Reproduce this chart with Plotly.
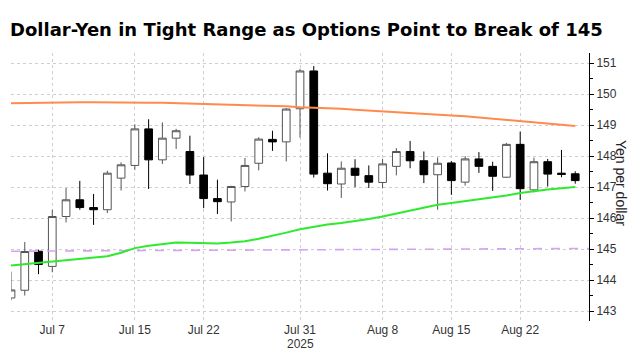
import pandas as pd
import plotly.graph_objects as go

# ---- data ----
dates = list(pd.bdate_range("2025-07-02", "2025-08-28").strftime("%Y-%m-%d"))

opens = [143.42, 143.67, 144.93, 144.44, 146.05, 146.59, 146.34, 146.27, 147.29, 147.70,
         148.88, 147.88, 148.58, 148.15, 147.39, 146.63, 146.52, 147.02, 147.77, 148.54,
         148.46, 149.53, 150.75, 147.45, 147.10, 147.61, 147.37, 147.15, 147.67, 148.15,
         147.85, 147.40, 147.78, 147.16, 147.91, 147.67, 147.32, 148.38, 146.91, 147.82,
         147.45, 147.43]
highs = [144.27, 145.23, 144.98, 146.27, 146.97, 147.20, 146.78, 147.53, 147.80, 149.03,
         149.19, 149.09, 148.88, 148.66, 147.97, 147.24, 147.04, 147.94, 148.61, 148.82,
         149.55, 150.82, 150.91, 148.09, 147.83, 147.90, 147.70, 147.91, 148.26, 148.49,
         148.15, 147.96, 147.84, 148.00, 148.13, 147.82, 148.43, 148.79, 147.95, 147.91,
         148.20, 147.51]
lows = [143.35, 143.50, 144.19, 144.25, 145.86, 146.27, 145.78, 146.16, 146.89, 147.56,
        146.94, 147.75, 148.23, 147.10, 146.32, 146.13, 145.89, 146.86, 147.54, 148.17,
        147.83, 148.60, 147.31, 146.89, 146.65, 147.00, 146.97, 146.96, 147.38, 147.61,
        147.13, 146.27, 146.75, 147.05, 147.46, 146.88, 147.30, 146.59, 146.83, 147.02,
        147.32, 147.11]
closes = [143.68, 144.92, 144.50, 146.05, 146.59, 146.34, 146.27, 147.45, 147.72, 148.88,
          147.88, 148.58, 148.82, 147.39, 146.63, 146.53, 147.02, 147.70, 148.55, 148.46,
          149.52, 150.75, 147.42, 147.11, 147.61, 147.38, 147.16, 147.75, 148.15, 147.85,
          147.40, 147.77, 147.21, 147.91, 147.67, 147.35, 148.38, 146.95, 147.82, 147.42,
          147.41, 147.21]

ma_orange = [149.71, 149.72, 149.72, 149.73, 149.74, 149.74, 149.74, 149.73, 149.73, 149.72,
             149.72, 149.72, 149.71, 149.70, 149.69, 149.68, 149.67, 149.66, 149.65, 149.63,
             149.61, 149.58, 149.57, 149.55, 149.53, 149.50, 149.47, 149.44, 149.41, 149.38,
             149.36, 149.33, 149.31, 149.29, 149.25, 149.22, 149.18, 149.14, 149.10, 149.06,
             149.01, 148.97]
ma_green = [144.47, 144.51, 144.55, 144.60, 144.64, 144.68, 144.71, 144.77, 144.88, 145.03,
            145.11, 145.16, 145.21, 145.20, 145.19, 145.18, 145.21, 145.25, 145.33, 145.42,
            145.53, 145.64, 145.72, 145.79, 145.84, 145.90, 145.97, 146.05, 146.15, 146.25,
            146.34, 146.43, 146.49, 146.55, 146.60, 146.66, 146.73, 146.81, 146.87, 146.92,
            146.96, 147.00]

strike_dates = ["2025-07-02", "2025-08-29"]
strike_level = [144.93, 145.02]

tick_dates = ["2025-07-07", "2025-07-15", "2025-07-22", "2025-07-31",
              "2025-08-08", "2025-08-15", "2025-08-22"]
tick_labels = ["Jul 7", "Jul 15", "Jul 22", "Jul 31", "Aug 8", "Aug 15", "Aug 22"]
year_date = "2025-07-31"
year_label = "2025"

title_text = "Dollar-Yen in Tight Range as Options Point to Break of 145"
y_title = "Yen per dollar"

# ---- figure ----
fig = go.Figure()

fig.add_trace(go.Scatter(x=strike_dates, y=strike_level, mode="lines",
                         line=dict(color="#D6A2F2", width=1.6, dash="dash"),
                         hoverinfo="skip"))
fig.add_trace(go.Scatter(x=dates, y=ma_orange, mode="lines",
                         line=dict(color="#FF8A4C", width=2), hoverinfo="skip"))
fig.add_trace(go.Scatter(x=dates, y=ma_green, mode="lines",
                         line=dict(color="#2EEA2E", width=2), hoverinfo="skip"))

fig.add_trace(go.Candlestick(
    x=dates, open=opens, high=highs, low=lows, close=closes,
    increasing=dict(fillcolor="white", line=dict(color="#555555", width=1)),
    decreasing=dict(fillcolor="black", line=dict(color="black", width=1)),
    whiskerwidth=0,
))

fig.update_layout(
    width=639, height=352,
    margin=dict(l=11, r=50, t=53, b=31, autoexpand=False),
    plot_bgcolor="white", paper_bgcolor="white",
    showlegend=False,
    boxgap=0.2,
    title=dict(text=title_text, x=10 / 639, xanchor="left",
               y=1 - 30 / 352, yanchor="middle", yref="container",
               font=dict(family="DejaVu Sans", size=18, color="black", weight="bold")),
    font=dict(family="Liberation Sans", size=12, color="#333333"),
)

fig.update_xaxes(
    type="date",
    automargin=False,
    range=["2025-07-02", "2025-08-29"],
    rangebreaks=[dict(bounds=["sat", "mon"])],
    rangeslider=dict(visible=False),
    tickmode="array", tickvals=tick_dates, ticktext=tick_labels,
    showgrid=True, gridcolor="#cfcfcf", griddash="dot", gridwidth=1,
    showline=False, zeroline=False, ticks="",
    tickfont=dict(family="Liberation Sans", size=12, color="#333333"),
)

fig.update_yaxes(
    side="right",
    automargin=False,
    range=[142.677, 151.33],
    tick0=143, dtick=1,
    showgrid=True, gridcolor="#cfcfcf", griddash="dot", gridwidth=1,
    showline=True, linecolor="black", linewidth=1,
    ticks="outside", ticklen=4, tickcolor="black",
    minor=dict(dtick=0.5, tick0=143, ticks="outside", ticklen=3, tickcolor="black", showgrid=False),
    zeroline=False,
    tickfont=dict(family="Liberation Sans", size=12, color="#333333"),
)

fig.add_annotation(text=year_label, xref="x", yref="paper",
                   x=year_date, y=0, yshift=-23, xanchor="center", yanchor="middle",
                   showarrow=False,
                   font=dict(family="Liberation Sans", size=12, color="#333333"))

fig.add_annotation(text=y_title, xref="paper", yref="paper",
                   x=(621 - 11) / 578, y=0.515, xanchor="center", yanchor="middle",
                   showarrow=False, textangle=90,
                   font=dict(family="Liberation Sans", size=14, color="#222222"))

fig.write_html("out.html")
